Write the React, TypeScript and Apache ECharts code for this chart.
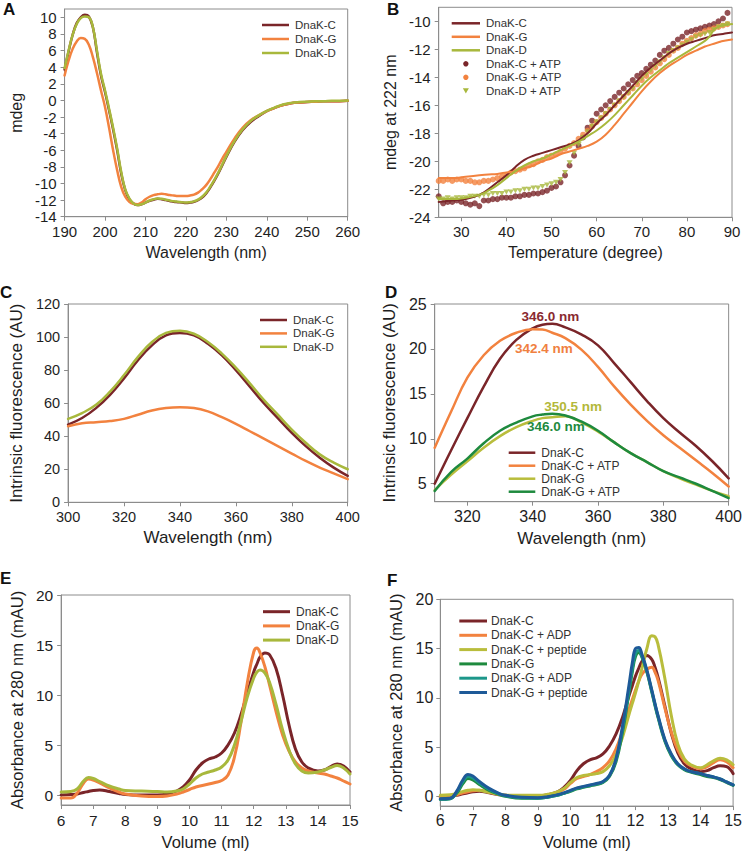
import React, { useEffect, useRef } from "react";
import * as echarts from "echarts";

// ---------------- Colours / fonts ----------------
const FONT = '"Liberation Sans", Arial, Helvetica, sans-serif';
const AXIS_COLOR = "#8c8c8c";
const TEXT_COLOR = "#1e1e1e";
const DARK_RED = "#7a2529";
const ORANGE = "#f2823f";
const OLIVE = "#a8b83c";
const OLIVE2 = "#b9bd3c";
const GREEN = "#1e8a3e";
const TEAL = "#1c978a";
const BLUE = "#1e5a98";

// ---------------- Panel A data (CD spectra) ----------------
const aWavelength = [190,191,192,193,194,195,196,197,198,199,200,201,202,203,204,205,206,207,208,209,210,211,212,213,214,215,216,217,218,219,220,221,222,223,224,225,226,227,228,229,230,232,234,236,238,240,242,244,246,248,250,252,254,256,258,260];
const aDnaKC = [3.7,5.9,7.9,9.3,10.0,10.3,10.1,8.8,5.8,3.0,1.0,-1.2,-3.5,-6.0,-8.8,-10.8,-11.9,-12.4,-12.6,-12.5,-12.3,-12.1,-11.95,-11.85,-11.9,-12.0,-12.1,-12.2,-12.25,-12.3,-12.35,-12.3,-12.2,-12.0,-11.7,-11.2,-10.5,-9.7,-8.8,-7.8,-6.8,-5.0,-3.6,-2.6,-1.9,-1.3,-0.9,-0.55,-0.35,-0.25,-0.2,-0.15,-0.1,-0.1,-0.1,-0.05];
const aDnaKG = [3.0,4.8,6.2,7.1,7.5,7.4,6.7,5.2,3.3,1.2,-0.8,-3.3,-6.0,-8.4,-10.4,-11.6,-12.2,-12.45,-12.5,-12.3,-11.9,-11.6,-11.4,-11.3,-11.25,-11.3,-11.4,-11.45,-11.5,-11.5,-11.5,-11.45,-11.35,-11.1,-10.7,-10.2,-9.5,-8.7,-7.9,-7.0,-6.2,-4.6,-3.3,-2.4,-1.8,-1.3,-0.9,-0.55,-0.35,-0.25,-0.2,-0.15,-0.1,-0.1,-0.1,-0.05];
const aDnaKD = [3.9,6.0,7.9,9.2,9.9,10.1,10.0,8.8,6.0,3.2,1.2,-1.0,-3.3,-5.8,-8.6,-10.7,-11.8,-12.4,-12.6,-12.5,-12.3,-12.05,-11.9,-11.8,-11.85,-11.95,-12.05,-12.15,-12.2,-12.25,-12.3,-12.25,-12.15,-11.95,-11.6,-11.1,-10.4,-9.6,-8.7,-7.7,-6.7,-4.9,-3.5,-2.5,-1.8,-1.25,-0.85,-0.5,-0.3,-0.2,-0.15,-0.1,-0.1,-0.05,-0.05,0.0];
const aXTicks = [190,200,210,220,230,240,250,260];
const aYTicks = [-14,-12,-10,-8,-6,-4,-2,0,2,4,6,8,10];

// ---------------- Panel B data (thermal melt at 222 nm) ----------------
const bLineTemp = [25,28,31,34,36,38,40,42,44,46,48,50,52,54,56,58,60,62,64,66,68,70,72,74,76,78,80,82,84,85,86,87,88,90];
const bDnaKC = [-22.9,-22.8,-22.7,-22.4,-22.0,-21.5,-21.0,-20.4,-19.9,-19.6,-19.4,-19.2,-19.0,-18.8,-18.5,-18.0,-17.3,-16.7,-16.0,-15.3,-14.6,-13.9,-13.3,-12.8,-12.3,-11.9,-11.6,-11.4,-11.2,-11.1,-11.0,-10.95,-10.9,-10.8];
const bDnaKG = [-21.2,-21.2,-21.1,-21.0,-20.95,-20.9,-20.8,-20.7,-20.5,-20.3,-20.0,-19.8,-19.5,-19.3,-19.1,-18.9,-18.6,-18.1,-17.4,-16.6,-15.8,-15.0,-14.3,-13.7,-13.2,-12.8,-12.4,-12.1,-11.8,-11.7,-11.6,-11.5,-11.4,-11.3];
const bDnaKD = [-22.7,-22.7,-22.6,-22.4,-22.1,-21.7,-21.2,-20.7,-20.3,-20.0,-19.8,-19.5,-19.2,-18.9,-18.6,-18.2,-17.8,-17.3,-16.7,-16.0,-15.3,-14.6,-14.0,-13.5,-13.0,-12.6,-12.2,-11.8,-11.4,-11.1,-10.6,-10.4,-10.3,-10.2];
const bDotTemp = [25,26,27,28,29,30,31,32,33,34,35,36,37,38,39,40,41,42,43,44,45,46,47,48,49,50,51,52,53,54,55,56,57,58,59,60,61,62,63,64,65,66,67,68,69,70,71,72,73,74,75,76,77,78,79,80,81,82,83,84,85,86,87,88,89];
const bDnaKCATP = [-22.5,-23.0,-22.9,-22.9,-22.8,-22.9,-23.0,-23.1,-23.0,-23.2,-22.8,-22.8,-22.7,-22.7,-22.6,-22.6,-22.6,-22.5,-22.5,-22.4,-22.4,-22.3,-22.3,-22.2,-22.1,-21.9,-21.8,-21.5,-21.0,-20.3,-19.6,-18.9,-18.3,-17.6,-17.1,-16.6,-16.3,-16.0,-15.7,-15.4,-15.1,-14.8,-14.5,-14.2,-13.9,-13.7,-13.4,-13.1,-12.8,-12.4,-12.1,-11.9,-11.6,-11.3,-11.1,-10.8,-10.7,-10.6,-10.5,-10.4,-10.3,-10.2,-10.0,-9.8,-9.4];
const bDnaKGATP = [-21.4,-21.4,-21.3,-21.4,-21.3,-21.3,-21.4,-21.4,-21.5,-21.5,-21.4,-21.4,-21.3,-21.2,-21.1,-21.0,-20.8,-20.7,-20.6,-20.5,-20.3,-20.2,-20.0,-19.9,-19.7,-19.6,-19.5,-19.3,-19.1,-18.9,-18.7,-18.4,-18.1,-17.8,-17.5,-17.2,-16.9,-16.6,-16.3,-16.0,-15.7,-15.4,-15.1,-14.8,-14.5,-14.2,-13.9,-13.6,-13.3,-13.0,-12.7,-12.4,-12.1,-11.9,-11.6,-11.4,-11.2,-11.0,-10.9,-10.7,-10.6,-10.5,-10.4,-10.3,-10.2];
const bDnaKDATP = [-22.7,-22.7,-22.6,-22.7,-22.6,-22.6,-22.6,-22.5,-22.5,-22.5,-22.4,-22.4,-22.3,-22.3,-22.3,-22.2,-22.2,-22.1,-22.1,-22.0,-22.0,-21.9,-21.9,-21.8,-21.7,-21.6,-21.5,-21.3,-20.8,-20.1,-19.4,-18.8,-18.3,-17.9,-17.5,-17.2,-16.9,-16.6,-16.3,-16.0,-15.7,-15.4,-15.1,-14.8,-14.4,-14.1,-13.8,-13.5,-13.2,-12.9,-12.6,-12.3,-12.1,-11.9,-11.7,-11.5,-11.3,-11.1,-11.0,-10.9,-10.8,-10.6,-10.4,-10.3,-10.2];
const bXTicks = [30,40,50,60,70,80,90];
const bYTicks = [-24,-22,-20,-18,-16,-14,-12,-10];

// ---------------- Panel C data (intrinsic fluorescence) ----------------
const cWavelength = [300,305,310,315,320,325,330,335,340,345,350,355,360,365,370,375,380,385,390,395,400];
const cDnaKC = [47,51,57,65,75,86,95,101,102.5,101,96,89,80,70,60,51,42,34,27,21,16];
const cDnaKG = [46,47.8,48.5,49.2,50.5,53,55.5,57,57.5,57,55,51.5,47.5,43,38.5,34,29.5,25,21,17.5,14];
const cDnaKD = [50.5,54,59,67,77,88,97,102.5,103.8,102,97,90,81.5,72,62,53,44,36,29,24,20];
const cXTicks = [300,320,340,360,380,400];
const cYTicks = [0,20,40,60,80,100,120];

// ---------------- Panel D data (fluorescence ± ATP) ----------------
const dWavelength = [310,315,320,325,330,335,340,343,346,350,355,360,365,370,375,380,385,390,395,400];
const dDnaKC = [5.0,8.7,12.3,15.8,18.9,21.0,22.3,22.7,22.8,22.4,21.6,20.4,18.4,16.3,14.2,12.3,10.7,9.2,7.5,5.6];
const dDnaKCATP = [9.0,13.0,16.8,19.3,20.9,21.8,22.2,22.15,21.8,21.2,19.9,18.0,15.8,13.8,12.0,10.4,9.0,7.6,6.2,4.7];
const dDnaKG = [4.3,6.0,7.5,9.0,10.3,11.3,12.0,12.3,12.4,12.5,11.8,10.8,9.6,8.4,7.4,6.4,5.6,4.9,4.2,3.6];
const dDnaKGATP = [4.2,6.3,7.8,9.5,10.9,11.8,12.5,12.7,12.8,12.6,11.9,10.9,9.6,8.4,7.4,6.4,5.7,5.0,4.2,3.4];
const dXTicks = [320,340,360,380,400];
const dYTicks = [5,10,15,20,25];

// ---------------- Panel E data (SEC) ----------------
const eVolume = [6,6.3,6.5,6.7,6.85,7,7.2,7.5,7.8,8,8.5,9,9.3,9.6,9.8,10,10.2,10.4,10.6,10.8,11,11.2,11.4,11.6,11.8,12,12.1,12.2,12.35,12.5,12.7,12.9,13.1,13.3,13.5,13.7,14,14.2,14.4,14.6,14.8,15];
const eDnaKC = [0.0,0.05,0.1,0.25,0.35,0.45,0.5,0.35,0.15,0.05,0.0,0.0,0.1,0.4,0.8,1.5,2.5,3.2,3.6,3.8,4.2,5.0,6.2,8.0,10.2,12.3,13.1,13.8,14.2,14.0,12.6,10.0,7.0,4.6,3.3,2.7,2.4,2.5,2.85,3.1,2.9,2.3];
const eDnaKG = [-0.3,-0.3,0.2,1.2,1.6,1.5,1.2,0.7,0.3,0.1,-0.1,-0.15,-0.1,0.1,0.3,0.55,0.8,0.95,1.1,1.25,1.45,2.0,3.8,7.2,11.2,14.3,14.7,14.2,12.8,10.9,8.3,6.0,4.4,3.3,2.7,2.4,2.2,2.1,1.9,1.7,1.4,1.1];
const eDnaKD = [0.3,0.35,0.6,1.4,1.75,1.65,1.35,0.9,0.6,0.45,0.4,0.35,0.3,0.4,0.6,1.1,1.7,2.1,2.3,2.5,2.8,3.5,5.0,7.3,9.8,11.7,12.3,12.5,12.2,11.2,9.0,6.5,4.5,3.1,2.4,2.2,2.3,2.5,2.75,2.95,2.7,2.1];
const eXTicks = [6,7,8,9,10,11,12,13,14,15];
const eYTicks = [0,5,10,15,20];

// ---------------- Panel F data (SEC ± ADP / peptide) ----------------
const fVolume = [6,6.3,6.5,6.7,6.85,7,7.2,7.5,7.8,8,8.5,9,9.3,9.6,9.8,10,10.2,10.4,10.6,10.8,11,11.2,11.4,11.6,11.8,11.9,12,12.1,12.2,12.35,12.5,12.6,12.7,12.9,13.1,13.3,13.5,13.7,14,14.2,14.4,14.6,14.8,15];
const fDnaKC = [-0.1,0.0,0.1,0.25,0.35,0.45,0.5,0.35,0.15,0.1,0.0,0.0,0.15,0.45,0.9,1.6,2.6,3.3,3.7,3.9,4.3,5.1,6.3,8.0,10.2,11.2,12.2,13.0,13.7,14.3,13.9,13.1,12.0,9.2,6.4,4.4,3.3,2.8,2.5,2.6,2.9,3.1,3.0,2.3];
const fDnaKCADP = [-0.1,0.0,0.15,0.35,0.45,0.55,0.6,0.4,0.2,0.1,0.05,0.05,0.15,0.4,0.7,1.3,1.8,2.0,2.2,2.5,2.9,3.6,4.8,6.6,8.8,9.8,10.8,11.7,12.4,12.9,13.1,12.6,11.7,9.0,6.5,4.7,3.6,3.1,2.8,3.0,3.4,3.7,3.5,2.9];
const fDnaKCPep = [0.1,0.15,0.3,0.5,0.6,0.65,0.6,0.4,0.2,0.1,0.1,0.1,0.2,0.45,0.8,1.4,1.9,2.1,2.2,2.3,2.5,3.1,4.2,6.0,8.3,9.4,10.5,11.7,13.0,15.0,16.3,16.2,15.3,12.0,8.2,5.3,3.8,3.2,2.9,3.2,3.6,3.85,3.7,3.2];
const fDnaKG = [-0.3,-0.25,0.3,1.3,1.8,1.65,1.2,0.6,0.2,0.0,-0.2,-0.2,-0.1,0.1,0.3,0.5,0.75,0.9,1.05,1.2,1.4,2.0,3.5,6.5,10.5,12.6,14.2,14.6,14.1,12.6,10.6,9.2,7.9,5.6,4.1,3.2,2.7,2.45,2.2,2.0,1.9,1.7,1.4,1.1];
const fDnaKGADP = [-0.3,-0.25,0.4,1.5,2.0,1.85,1.35,0.7,0.25,0.05,-0.15,-0.2,-0.1,0.1,0.3,0.55,0.8,0.95,1.1,1.25,1.45,2.1,3.7,6.8,10.8,12.9,14.5,14.8,14.2,12.7,10.7,9.3,8.0,5.7,4.2,3.25,2.75,2.5,2.3,2.1,1.95,1.75,1.45,1.15];
const fDnaKGPep = [-0.25,-0.2,0.5,1.7,2.2,2.05,1.5,0.8,0.3,0.1,-0.1,-0.15,-0.05,0.15,0.35,0.6,0.85,1.0,1.15,1.3,1.5,2.1,3.8,7.1,11.3,13.5,15.0,15.1,14.4,12.8,10.8,9.4,8.1,5.8,4.3,3.3,2.8,2.5,2.3,2.1,1.95,1.75,1.45,1.15];
const fXTicks = [6,7,8,9,10,11,12,13,14,15];
const fYTicks = [0,5,10,15,20];

// ---------------- helpers ----------------
const zip = (xs: number[], ys: number[]) => xs.map((x, i) => [x, ys[i]]);

function lineSeries(name: string, xs: number[], ys: number[], color: string, width: number, extra: any = {}) {
  return {
    name,
    type: "line",
    data: zip(xs, ys),
    symbol: "none",
    showSymbol: false,
    smooth: 0.45,
    lineStyle: { color, width, cap: "round", join: "round" },
    itemStyle: { color },
    emphasis: { disabled: true },
    ...extra,
  };
}

function axis(o: {
  min: number; max: number; ticks: number[]; name: string; nameGap: number;
  fontSize: number; nameSize: number; margin: number;
}) {
  return {
    type: "value",
    min: o.min,
    max: o.max,
    name: o.name,
    nameLocation: "middle",
    nameGap: o.nameGap,
    nameTextStyle: { fontFamily: FONT, fontSize: o.nameSize, color: TEXT_COLOR },
    axisLine: { show: true, onZero: false, lineStyle: { color: AXIS_COLOR, width: 1 } },
    axisTick: { show: true, inside: false, length: 4, lineStyle: { color: AXIS_COLOR }, customValues: o.ticks },
    axisLabel: {
      customValues: o.ticks,
      fontFamily: FONT,
      fontSize: o.fontSize,
      color: TEXT_COLOR,
      margin: o.margin,
      formatter: (v: number) => String(v),
    },
    splitLine: { show: false },
  };
}

function grid(left: number, top: number, width: number, height: number) {
  return { left, top, width, height, show: true, borderColor: AXIS_COLOR, borderWidth: 1, backgroundColor: "transparent", containLabel: false };
}

type Entry = { name: string; color: string; kind: "line" | "dot" | "tri"; width?: number };

// Hand-drawn legend: a short line (or marker) followed by the series name.
function legendGraphic(entries: Entry[], x: number, y0: number, lineLen: number, rowH: number, fontSize: number, textGap = 6) {
  const children: any[] = [];
  entries.forEach((e, i) => {
    const y = y0 + i * rowH;
    const cx = x + lineLen / 2;
    if (e.kind === "line") {
      children.push({ type: "line", shape: { x1: x, y1: y, x2: x + lineLen, y2: y }, style: { stroke: e.color, lineWidth: e.width ?? 2.5 } });
    } else if (e.kind === "dot") {
      children.push({ type: "circle", shape: { cx, cy: y, r: 2.7 }, style: { fill: e.color } });
    } else {
      children.push({ type: "polygon", shape: { points: [[cx - 3, y - 2.5], [cx + 3, y - 2.5], [cx, y + 2.8]] }, style: { fill: e.color } });
    }
    children.push({
      type: "text",
      x: x + lineLen + textGap,
      y,
      style: { text: e.name, font: `${fontSize}px ${FONT}`, fill: "#333", verticalAlign: "middle", align: "left" },
    });
  });
  return { type: "group", children };
}

function letter(text: string, left: number, top: number) {
  return {
    type: "text",
    left,
    top,
    style: { text, font: `bold 17px ${FONT}`, fill: "#111" },
  };
}

function peakLabel(text: string, coord: number[], color: string) {
  return {
    symbol: "circle",
    symbolSize: 1,
    itemStyle: { color: "rgba(0,0,0,0)" },
    label: { show: true, position: "inside", formatter: text, color, fontWeight: "bold", fontSize: 13.5, fontFamily: FONT },
    data: [{ coord }],
  };
}

// ---------------- options ----------------
const optionA = {
  animation: false,
  graphic: [
    letter("A", 3, 1),
    legendGraphic([
      { name: "DnaK-C", color: DARK_RED, kind: "line" },
      { name: "DnaK-G", color: ORANGE, kind: "line" },
      { name: "DnaK-D", color: OLIVE, kind: "line" },
    ], 262, 25, 27, 14, 11.5),
  ],
  grid: grid(55, 9, 292.7, 207.7),
  xAxis: axis({ min: 190, max: 260, ticks: aXTicks, name: "Wavelength (nm)", nameGap: 28, fontSize: 15, nameSize: 16, margin: 7 }),
  yAxis: axis({ min: -14, max: 11, ticks: aYTicks, name: "mdeg", nameGap: 26, fontSize: 15, nameSize: 16, margin: 8 }),
  series: [
    lineSeries("DnaK-C", aWavelength, aDnaKC, DARK_RED, 2.5),
    lineSeries("DnaK-G", aWavelength, aDnaKG, ORANGE, 2.5),
    lineSeries("DnaK-D", aWavelength, aDnaKD, OLIVE, 2.5),
  ],
};

const TRI_DOWN = "path://M0,0 L10,0 L5,9 Z";
const optionB = {
  animation: false,
  graphic: [
    letter("B", 15, 1),
    legendGraphic([
      { name: "DnaK-C", color: DARK_RED, kind: "line" },
      { name: "DnaK-G", color: ORANGE, kind: "line" },
      { name: "DnaK-D", color: OLIVE, kind: "line" },
      { name: "DnaK-C + ATP", color: DARK_RED, kind: "dot" },
      { name: "DnaK-G + ATP", color: ORANGE, kind: "dot" },
      { name: "DnaK-D + ATP", color: OLIVE, kind: "tri" },
    ], 79.7, 23.3, 28.3, 13.5, 11.5),
  ],
  grid: grid(66.7, 7.3, 293.3, 210),
  xAxis: axis({ min: 25, max: 90, ticks: bXTicks, name: "Temperature (degree)", nameGap: 27, fontSize: 15, nameSize: 16, margin: 7 }),
  yAxis: axis({ min: -24, max: -9, ticks: bYTicks, name: "mdeg at 222 nm", nameGap: 34, fontSize: 15, nameSize: 16, margin: 8 }),
  series: [
    lineSeries("DnaK-C", bLineTemp, bDnaKC, DARK_RED, 2),
    lineSeries("DnaK-G", bLineTemp, bDnaKG, ORANGE, 2),
    lineSeries("DnaK-D", bLineTemp, bDnaKD, OLIVE, 2),
    { name: "DnaK-C + ATP", type: "scatter", data: zip(bDotTemp, bDnaKCATP), symbol: "circle", symbolSize: 6, itemStyle: { color: DARK_RED } },
    { name: "DnaK-G + ATP", type: "scatter", data: zip(bDotTemp, bDnaKGATP), symbol: "circle", symbolSize: 6, itemStyle: { color: ORANGE } },
    { name: "DnaK-D + ATP", type: "scatter", data: zip(bDotTemp, bDnaKDATP), symbol: TRI_DOWN, symbolSize: [6, 5], itemStyle: { color: OLIVE } },
  ],
};

const optionC = {
  animation: false,
  graphic: [
    letter("C", 0, 4),
    legendGraphic([
      { name: "DnaK-C", color: DARK_RED, kind: "line" },
      { name: "DnaK-G", color: ORANGE, kind: "line" },
      { name: "DnaK-D", color: OLIVE, kind: "line" },
    ], 260, 40, 27, 13.4, 11.5),
  ],
  grid: grid(52.7, 24, 295, 198.3),
  xAxis: axis({ min: 300, max: 400, ticks: cXTicks, name: "Wavelength (nm)", nameGap: 27, fontSize: 14.5, nameSize: 17, margin: 7 }),
  yAxis: axis({ min: 0, max: 120, ticks: cYTicks, name: "Intrinsic fluorescence (AU)", nameGap: 36, fontSize: 14.5, nameSize: 17, margin: 8 }),
  series: [
    lineSeries("DnaK-C", cWavelength, cDnaKC, DARK_RED, 2.5),
    lineSeries("DnaK-G", cWavelength, cDnaKG, ORANGE, 2.5),
    lineSeries("DnaK-D", cWavelength, cDnaKD, OLIVE, 2.5),
  ],
};

const optionD = {
  animation: false,
  graphic: [
    letter("D", 13, 4),
    legendGraphic([
      { name: "DnaK-C", color: DARK_RED, kind: "line" },
      { name: "DnaK-C + ATP", color: ORANGE, kind: "line" },
      { name: "DnaK-G", color: OLIVE2, kind: "line" },
      { name: "DnaK-G + ATP", color: GREEN, kind: "line" },
    ], 136.7, 172.7, 26.6, 13, 12),
  ],
  grid: grid(62.7, 24, 299, 197.7),
  xAxis: axis({ min: 310, max: 400, ticks: dXTicks, name: "Wavelength (nm)", nameGap: 20, fontSize: 16, nameSize: 17, margin: 7 }),
  yAxis: axis({ min: 3, max: 25, ticks: dYTicks, name: "Intrinsic fluorescence (AU)", nameGap: 36, fontSize: 16, nameSize: 17, margin: 8 }),
  series: [
    lineSeries("DnaK-C", dWavelength, dDnaKC, DARK_RED, 2.5, { markPoint: peakLabel("346.0 nm", [345.4, 23.6], "#8a2a30") }),
    lineSeries("DnaK-C + ATP", dWavelength, dDnaKCATP, ORANGE, 2.5, { markPoint: peakLabel("342.4 nm", [343.4, 20.0], "#f08040") }),
    lineSeries("DnaK-G", dWavelength, dDnaKG, OLIVE2, 2.5, { markPoint: peakLabel("350.5 nm", [352.4, 13.6], "#b3b83a") }),
    lineSeries("DnaK-G + ATP", dWavelength, dDnaKGATP, GREEN, 2.5, { markPoint: peakLabel("346.0 nm", [347.1, 11.4], "#1e8a3e") }),
  ],
};

const optionE = {
  animation: false,
  graphic: [
    letter("E", 0, 5),
    legendGraphic([
      { name: "DnaK-C", color: DARK_RED, kind: "line", width: 3 },
      { name: "DnaK-G", color: ORANGE, kind: "line", width: 3 },
      { name: "DnaK-D", color: OLIVE, kind: "line", width: 3 },
    ], 263, 46.7, 27, 14.2, 12),
  ],
  grid: grid(52.7, 30, 297.3, 213.3),
  xAxis: axis({ min: 6, max: 15, ticks: eXTicks, name: "Volume (ml)", nameGap: 28, fontSize: 15.5, nameSize: 16.5, margin: 7 }),
  yAxis: axis({ min: -1, max: 20, ticks: eYTicks, name: "Absorbance at 280 nm (mAU)", nameGap: 33, fontSize: 15.5, nameSize: 16.5, margin: 8 }),
  series: [
    lineSeries("DnaK-C", eVolume, eDnaKC, DARK_RED, 3),
    lineSeries("DnaK-G", eVolume, eDnaKG, ORANGE, 3),
    lineSeries("DnaK-D", eVolume, eDnaKD, OLIVE, 3),
  ],
};

const optionF = {
  animation: false,
  graphic: [
    letter("F", 15, 7),
    legendGraphic([
      { name: "DnaK-C", color: DARK_RED, kind: "line", width: 3 },
      { name: "DnaK-C + ADP", color: ORANGE, kind: "line", width: 3 },
      { name: "DnaK-C + peptide", color: OLIVE2, kind: "line", width: 3 },
      { name: "DnaK-G", color: GREEN, kind: "line", width: 3 },
      { name: "DnaK-G + ADP", color: TEAL, kind: "line", width: 3 },
      { name: "DnaK-G + peptide", color: BLUE, kind: "line", width: 3 },
    ], 87.3, 56, 27.7, 14.3, 12, 4),
  ],
  grid: grid(68.3, 34.3, 296.7, 215),
  xAxis: axis({ min: 6, max: 15, ticks: fXTicks, name: "Volume (ml)", nameGap: 22, fontSize: 16, nameSize: 16.5, margin: 6 }),
  yAxis: axis({ min: -1, max: 20, ticks: fYTicks, name: "Absorbance at 280 nm (mAU)", nameGap: 27, fontSize: 16, nameSize: 16.5, margin: 7 }),
  series: [
    lineSeries("DnaK-C", fVolume, fDnaKC, DARK_RED, 3),
    lineSeries("DnaK-C + ADP", fVolume, fDnaKCADP, ORANGE, 3),
    lineSeries("DnaK-C + peptide", fVolume, fDnaKCPep, OLIVE2, 3),
    lineSeries("DnaK-G", fVolume, fDnaKG, GREEN, 3),
    lineSeries("DnaK-G + ADP", fVolume, fDnaKGADP, TEAL, 3),
    lineSeries("DnaK-G + peptide", fVolume, fDnaKGPep, BLUE, 3),
  ],
};

// ---------------- components ----------------
function Panel({ left, top, width, height, option }: { left: number; top: number; width: number; height: number; option: any }) {
  const ref = useRef<HTMLDivElement>(null);
  useEffect(() => {
    if (!ref.current) return;
    const chart = echarts.init(ref.current, undefined, { renderer: "svg" });
    chart.setOption(option);
    return () => chart.dispose();
  }, [option]);
  return <div ref={ref} style={{ position: "absolute", left, top, width, height }} />;
}

export default function App() {
  return (
    <div style={{ position: "absolute", left: 0, top: 0, width: 745, height: 855, background: "#fff", overflow: "hidden" }}>
      <Panel left={0} top={0} width={372} height={280} option={optionA} />
      <Panel left={372} top={0} width={373} height={280} option={optionB} />
      <Panel left={0} top={280} width={372} height={285} option={optionC} />
      <Panel left={372} top={280} width={373} height={285} option={optionD} />
      <Panel left={0} top={565} width={372} height={290} option={optionE} />
      <Panel left={372} top={565} width={373} height={290} option={optionF} />
    </div>
  );
}
